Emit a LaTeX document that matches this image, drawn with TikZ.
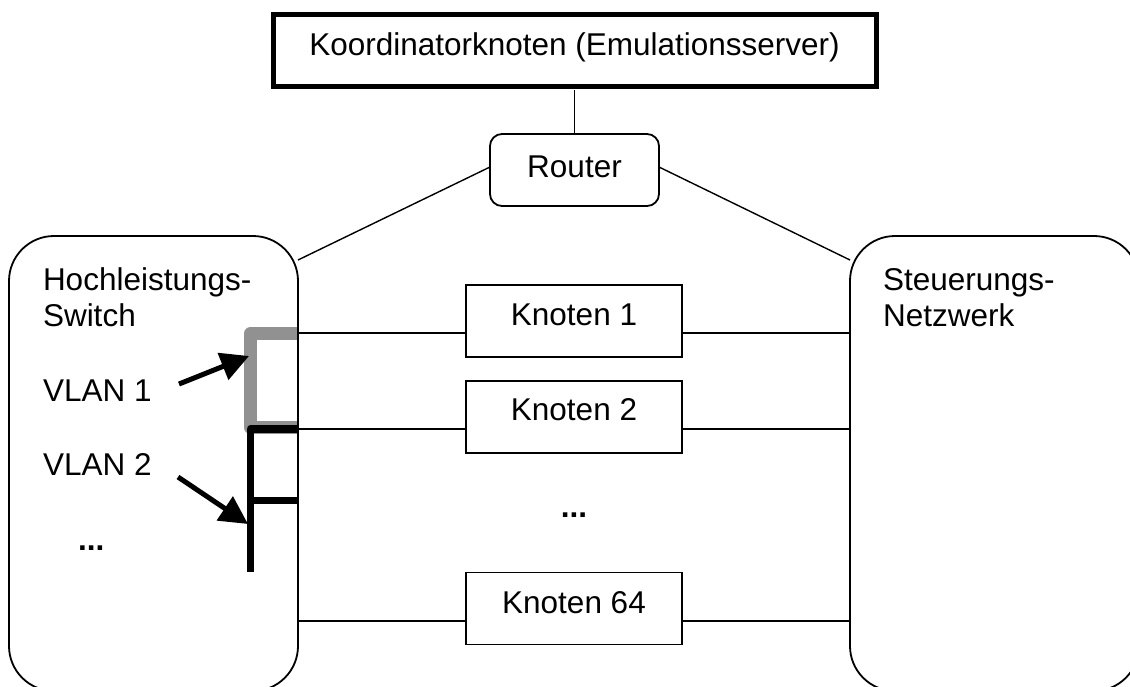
\documentclass[tikz,border=0pt]{standalone}
\usepackage{fontspec}
\setmainfont{Liberation Sans}
\usetikzlibrary{arrows.meta}
\begin{document}
\begin{tikzpicture}[x=1pt,y=-1pt,
  every node/.style={outer sep=0pt, inner sep=0pt},
  txt/.style={anchor=base west, font=\fontsize{31.5}{36}\selectfont},
  ctxt/.style={anchor=base, font=\fontsize{31.5}{36}\selectfont},
  bigbox/.style={draw, line width=1.8pt, rounded corners=45pt, minimum width=289pt, minimum height=455pt},
  knbox/.style={draw, line width=1.8pt, minimum width=216pt, minimum height=72pt},
  conn/.style={line width=1.4pt},
  vlanarrow/.style={line width=5pt, -{Triangle[length=28pt,width=28pt]}},
  grayvlan/.style={line width=13pt, color=black!43, line join=round, line cap=round},
  blackvlan/.style={line width=7.5pt, line join=round}
]
\useasboundingbox (0,0) rectangle (1130,686);
\clip (0,0) rectangle (1130,686);

% top coordinator box
\node[draw, line width=5pt, minimum width=603pt, minimum height=72pt] (ko) at (574.5,50) {};
\node[ctxt] (kot) at (574.5,55) {Koordinatorknoten (Emulationsserver)};

% router
\node[draw, line width=1.8pt, rounded corners=12pt, minimum width=169pt, minimum height=72pt] (rt) at (574.5,170) {};
\node[ctxt] (rtt) at (574.5,177) {Router};

% big boxes
\node[bigbox] (sw) at (153.5,463.5) {};
\node[bigbox] (sn) at (994.5,463.5) {};
\node[txt] (swt1) at (43,290) {Hochleistungs-};
\node[txt] (swt2) at (43,326) {Switch};
\node[txt] (snt1) at (883,290) {Steuerungs-};
\node[txt] (snt2) at (883,326) {Netzwerk};

% knoten boxes
\node[knbox] (k1) at (574,321) {};
\node[ctxt] (k1t) at (574,325) {Knoten 1};
\node[knbox] (k2) at (574,417) {};
\node[ctxt] (k2t) at (574,420) {Knoten 2};
\node[knbox] (k64) at (574,608.5) {};
\node[ctxt] (k64t) at (574,613) {Knoten 64};
\node[ctxt, font=\fontsize{31.5}{36}\selectfont\bfseries] (dotsm) at (574,517) {...};

% line heights
\coordinate (y1) at (0,333);
\coordinate (y2) at (0,429);
\coordinate (y64) at (0,621);

% connectors
\draw[conn] (ko.south -| rt.north) ++(0,4) -- (rt.north);
\draw[conn] ([yshift=3pt]rt.west) -- ([yshift=-24pt]sw.north east);
\draw[conn] ([yshift=3pt]rt.east) -- ([yshift=-24pt]sn.north west);

\draw[conn] (sw.east |- y1) -- (k1.west |- y1);
\draw[conn] (k1.east |- y1) -- (sn.west |- y1);
\draw[conn] (sw.east |- y2) -- (k2.west |- y2);
\draw[conn] (k2.east |- y2) -- (sn.west |- y2);
\draw[conn] (sw.east |- y64) -- (k64.west |- y64);
\draw[conn] (k64.east |- y64) -- (sn.west |- y64);

% VLAN brackets
\coordinate (g1) at (250.5,333.5);
\coordinate (g2) at (250.5,427.5);
\draw[grayvlan, line cap=butt] ([xshift=-0.9pt]sw.east |- g1) -- (g1) -- (g2) -- ([xshift=-0.9pt]sw.east |- g2);

\coordinate (b1) at (250.5,429);
\coordinate (b2) at (250.5,572);
\coordinate (b3) at (250.5,500.5);
\draw[blackvlan] ([xshift=-0.9pt]sw.east |- b1) -- (b1) -- (b2);
\draw[blackvlan] (b3) -- ([xshift=-0.9pt]sw.east |- b3);

% VLAN labels and arrows
\node[txt] (v1) at (43,401) {VLAN 1};
\node[txt] (v2) at (43,475) {VLAN 2};
\node[txt, font=\fontsize{31.5}{36}\selectfont\bfseries] (vd) at (78,550) {...};
\coordinate (a1s) at (179,384);
\coordinate (a1e) at (249,356);
\coordinate (a2s) at (178,477);
\coordinate (a2e) at (248,524);
\draw[vlanarrow] (a1s) -- (a1e);
\draw[vlanarrow] (a2s) -- (a2e);
\end{tikzpicture}
\end{document}
